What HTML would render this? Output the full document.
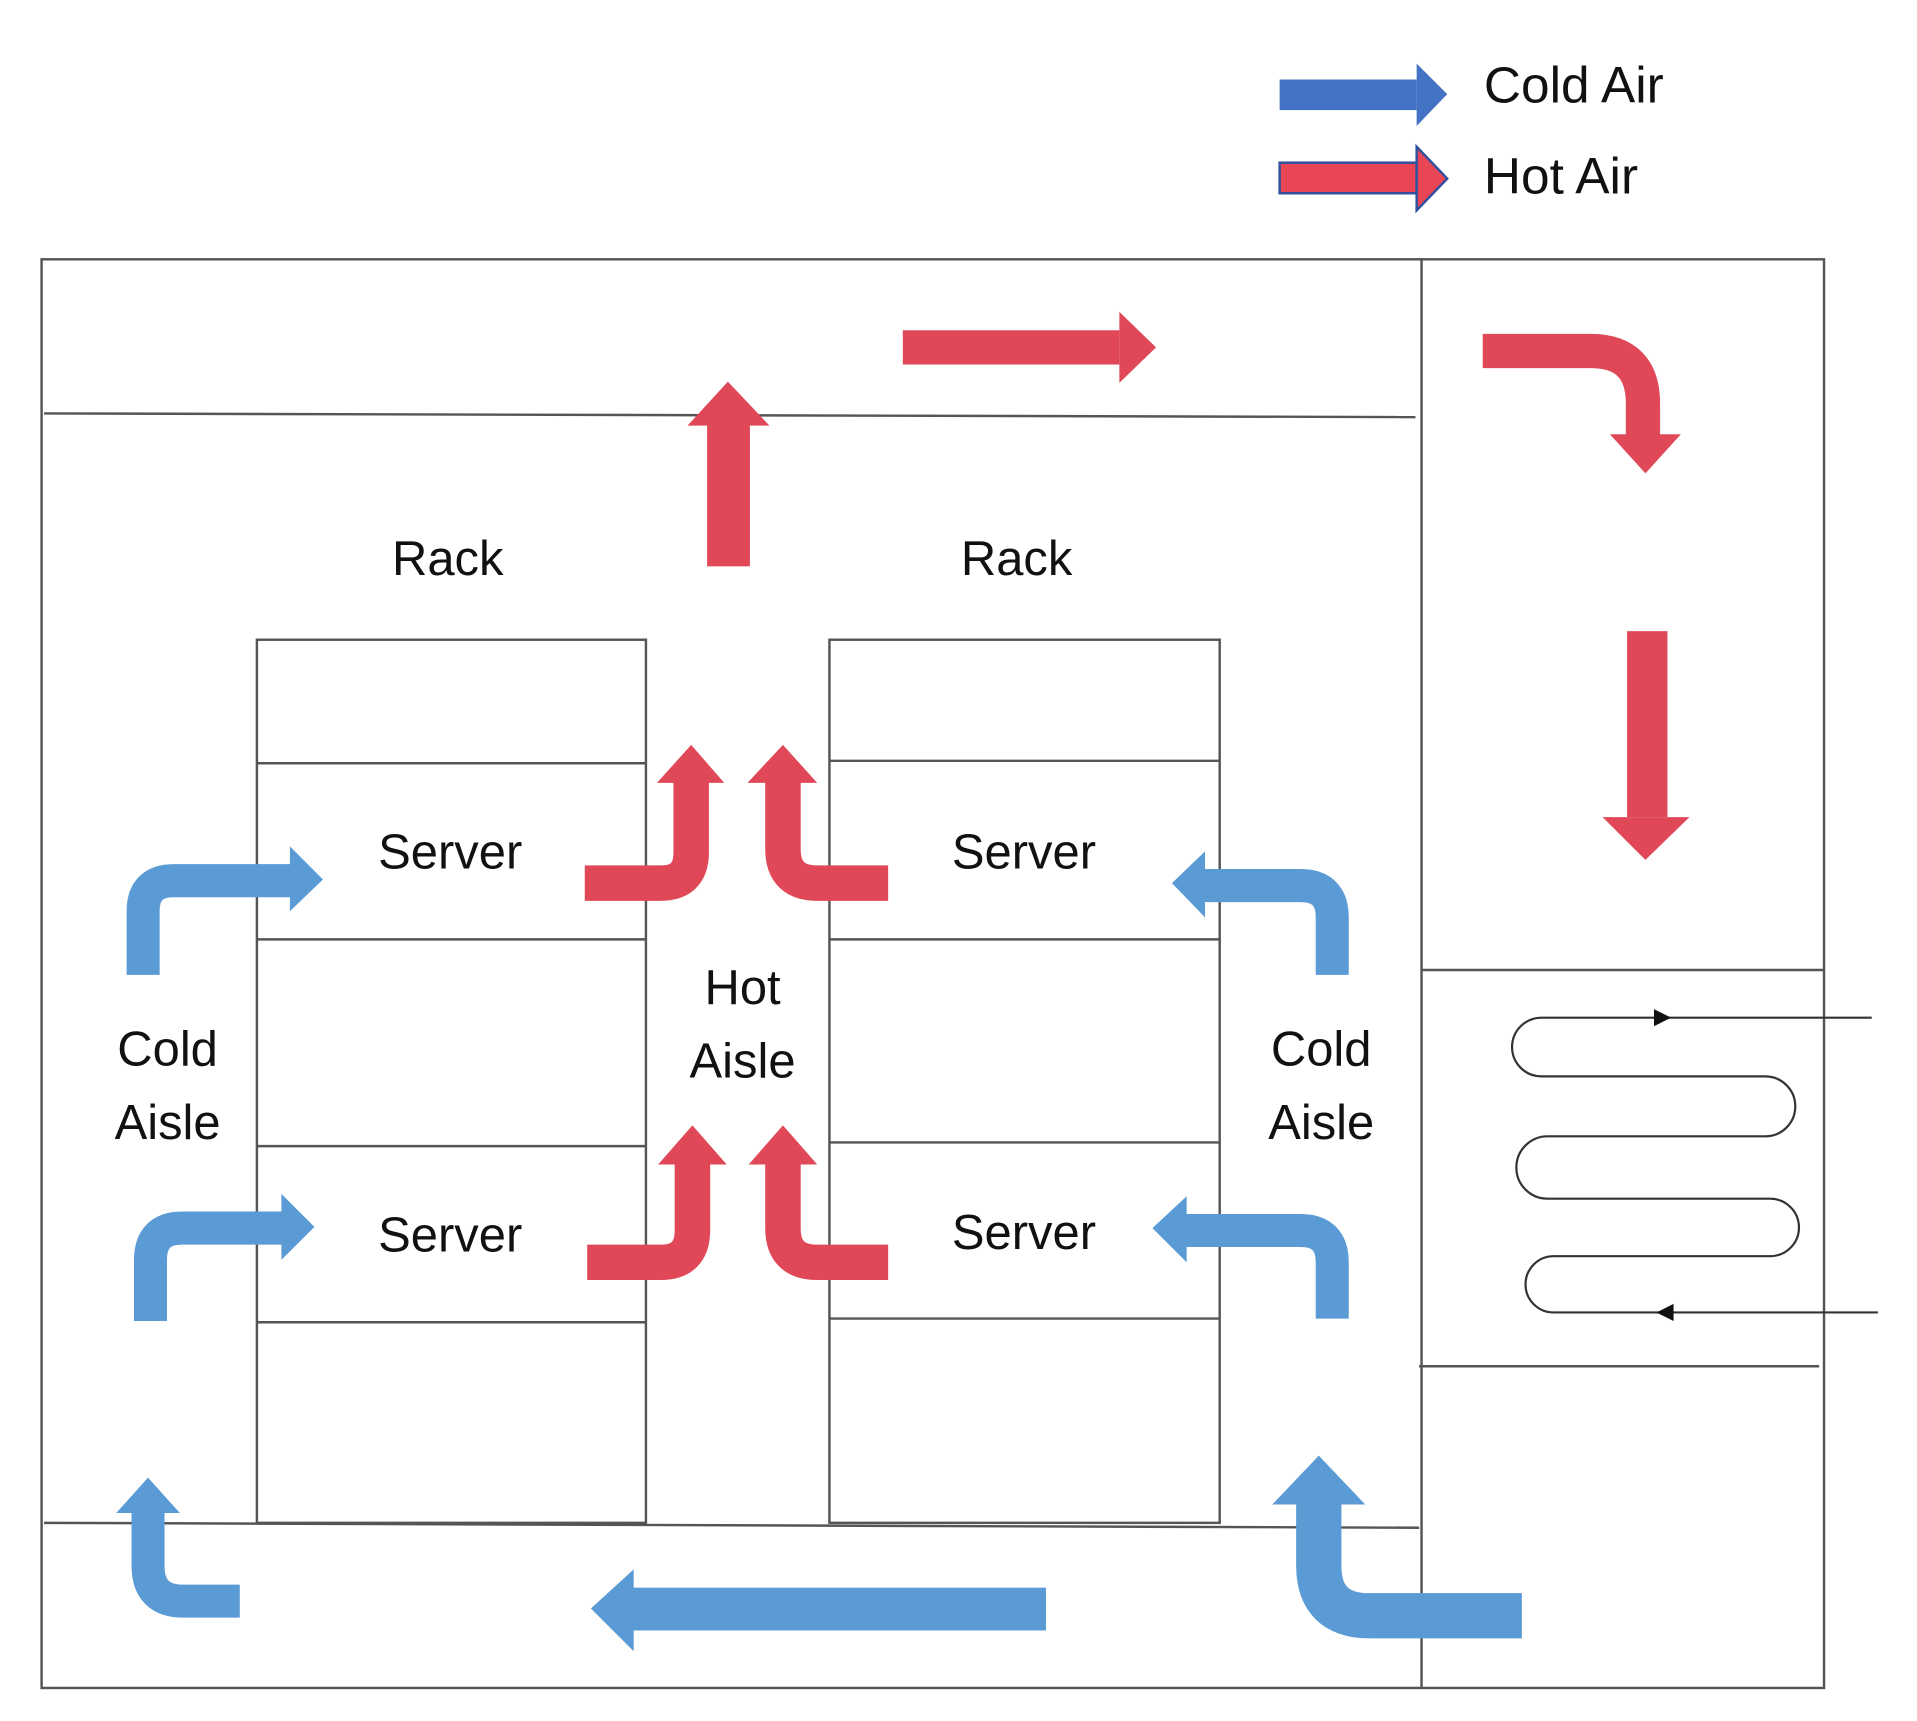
<!DOCTYPE html>
<html><head><meta charset="utf-8"><style>
html,body{margin:0;padding:0;background:#fff;}
svg{display:block;}
text{font-family:"Liberation Sans",sans-serif;fill:#111;}
</style></head><body>
<svg width="1917" height="1721" viewBox="0 0 1567 1407" preserveAspectRatio="none" xmlns="http://www.w3.org/2000/svg">
<g stroke="#555" stroke-width="2" fill="none">
<rect x="34" y="212" width="1457" height="1168"/>
<line x1="1162" y1="212" x2="1162" y2="1380"/>
<line x1="36" y1="338" x2="1157" y2="341"/>
<line x1="36" y1="1245" x2="1160" y2="1249"/>
<line x1="1162" y1="793" x2="1491" y2="793"/>
<line x1="1160" y1="1117" x2="1487" y2="1117"/>
<rect x="210" y="523" width="318" height="722"/>
<line x1="210" y1="624" x2="528" y2="624"/><line x1="210" y1="768" x2="528" y2="768"/>
<line x1="210" y1="937" x2="528" y2="937"/><line x1="210" y1="1081" x2="528" y2="1081"/>
<rect x="678" y="523" width="319" height="722"/>
<line x1="678" y1="622" x2="997" y2="622"/><line x1="678" y1="768" x2="997" y2="768"/>
<line x1="678" y1="934" x2="997" y2="934"/><line x1="678" y1="1078" x2="997" y2="1078"/>
</g>
<path d="M1530 832 H1260 A24 24 0 0 0 1260 880 H1443 A24.5 24.5 0 0 1 1443 929 H1265 A25.5 25.5 0 0 0 1265 980 H1447 A23.5 23.5 0 0 1 1447 1027 H1270 A23 23 0 0 0 1270 1073 H1535" stroke="#333" stroke-width="1.8" fill="none"/>
<polygon points="1352,825 1366,832 1352,839" fill="#111"/>
<polygon points="1368,1066 1354,1073 1368,1080" fill="#111"/>
<rect x="1046" y="65" width="112" height="25" fill="#4472C4"/>
<polygon points="1158,52 1183,77 1158,103" fill="#4472C4"/>
<rect x="1046" y="133" width="112" height="25" fill="#E84654" stroke="#3050a0" stroke-width="2"/>
<polygon points="1158,120 1183,146 1158,172" fill="#E84654" stroke="#3050a0" stroke-width="2"/>
<text x="1213" y="84" font-size="42">Cold Air</text>
<text x="1213" y="158" font-size="42">Hot Air</text>
<g font-size="40" text-anchor="middle">
<text x="366" y="470">Rack</text><text x="831" y="470">Rack</text>
<text x="368" y="710">Server</text><text x="837" y="710">Server</text>
<text x="368" y="1023">Server</text><text x="837" y="1021">Server</text>
<text x="137" y="871">Cold</text><text x="137" y="931">Aisle</text>
<text x="607" y="821">Hot</text><text x="607" y="881">Aisle</text>
<text x="1080" y="871">Cold</text><text x="1080" y="931">Aisle</text>
</g>
<g fill="#E04858">
<rect x="738" y="270" width="177" height="28"/><polygon points="915,255 945,284 915,313"/>
<rect x="578" y="345" width="35" height="118"/><polygon points="562,348 629,348 595,312"/>
<polygon points="1316,355 1374,355 1345,387"/>
<rect x="1330" y="516" width="33" height="152"/><polygon points="1310,668 1381,668 1345,703"/>
<polygon points="537,640 592,640 565,609"/>
<polygon points="611,640 668,640 640,609"/>
<polygon points="538,952 594,952 566,920"/>
<polygon points="612,952 668,952 640,920"/>
</g>
<g stroke="#E04858" fill="none">
<path d="M1212 287 H1300 Q1343 287 1343 330 V357" stroke-width="28"/>
<path d="M478 722 H540 Q565 722 565 697 V638" stroke-width="29"/>
<path d="M726 722 H668 Q640 722 640 694 V638" stroke-width="29"/>
<path d="M480 1032 H540 Q566 1032 566 1006 V950" stroke-width="29"/>
<path d="M726 1032 H668 Q640 1032 640 1004 V950" stroke-width="29"/>
</g>
<g fill="#5B9BD5">
<polygon points="237,692 264,719 237,745"/>
<polygon points="230,976 257,1003 230,1030"/>
<polygon points="985,696 958,722 985,750"/>
<polygon points="970,978 942,1004 970,1032"/>
<polygon points="95,1237 147,1237 121,1208"/>
<polygon points="1040,1230 1116,1230 1078,1190"/>
<rect x="516" y="1298" width="339" height="35"/><polygon points="518,1283 483,1315 518,1350"/>
</g>
<g stroke="#5B9BD5" fill="none">
<path d="M117 797 V745 Q117 720 142 720 H239" stroke-width="27"/>
<path d="M123 1080 V1030 Q123 1004 149 1004 H232" stroke-width="27"/>
<path d="M1089 797 V750 Q1089 724 1063 724 H983" stroke-width="27"/>
<path d="M1089 1078 V1032 Q1089 1006 1063 1006 H968" stroke-width="27"/>
<path d="M196 1309 H150 Q121 1309 121 1280 V1235" stroke-width="27"/>
<path d="M1244 1321 H1120 Q1078 1321 1078 1280 V1228" stroke-width="37"/>
</g>
</svg>
</body></html>
